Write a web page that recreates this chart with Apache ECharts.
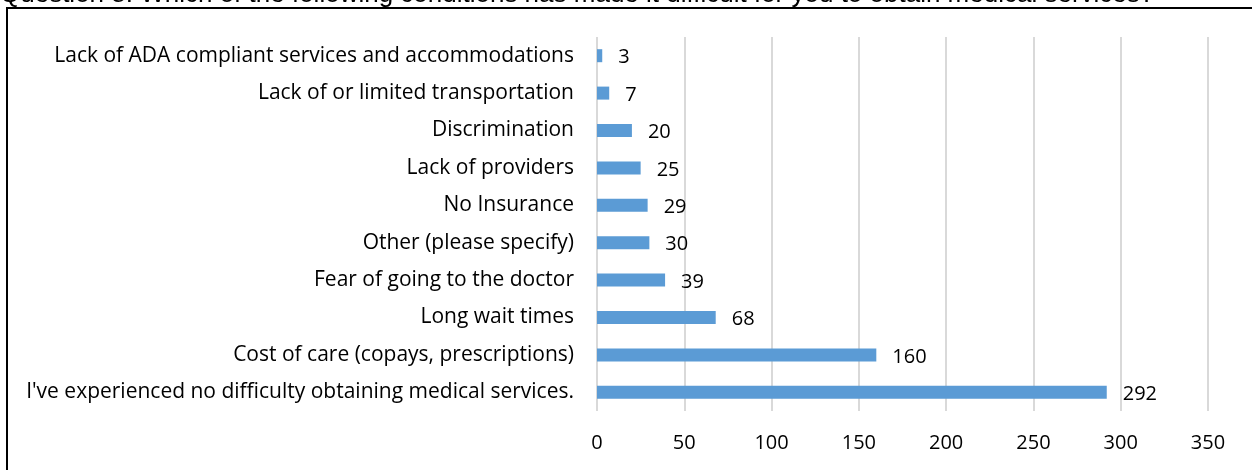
<!DOCTYPE html>
<html>
<head>
<meta charset="utf-8">
<script src="https://cdn.jsdelivr.net/npm/echarts@6/dist/echarts.min.js"></script>
<style>
  html, body { margin: 0; padding: 0; background: #fff; }
  #chart { width: 1252px; height: 470px; }
</style>
</head>
<body>
<div id="chart"></div>
<script>
// Survey responses, listed bottom-to-top as drawn on the category axis
const categories = [
  "I've experienced no difficulty obtaining medical services.",
  "Cost of care (copays, prescriptions)",
  "Long wait times",
  "Fear of going to the doctor",
  "Other (please specify)",
  "No Insurance",
  "Lack of providers",
  "Discrimination",
  "Lack of or limited transportation",
  "Lack of ADA compliant services and accommodations"
];
const counts = [292, 160, 68, 39, 30, 29, 25, 20, 7, 3];
const titleText = "Question 8: Which of the following conditions has made it difficult for you to obtain medical services?";

const labelFont = '"Open Sans", Lato, "Liberation Sans", sans-serif';

const chart = echarts.init(document.getElementById('chart'), null, { renderer: 'canvas' });
chart.setOption({
  animation: false,
  backgroundColor: '#ffffff',
  graphic: [
    {
      type: 'text',
      left: 0,
      top: -18,
      style: {
        text: titleText,
        font: '26px "Liberation Sans", Arial, sans-serif',
        fill: '#000000'
      }
    },
    {
      type: 'rect',
      shape: { x: 7, y: 8, width: 1400, height: 600 },
      style: { fill: 'none', stroke: '#000000', lineWidth: 2 }
    }
  ],
  grid: { left: 597, right: 44, top: 37, bottom: 59, containLabel: false },
  xAxis: {
    type: 'value',
    min: 0,
    max: 350,
    interval: 50,
    axisLine: { show: false },
    axisTick: { show: false },
    axisLabel: { color: '#000', fontFamily: labelFont, fontSize: 20, margin: 22 },
    splitLine: { show: true, lineStyle: { color: '#d9d9d9', width: 2 } }
  },
  yAxis: {
    type: 'category',
    data: categories,
    axisLine: { show: false },
    axisTick: { show: false },
    axisLabel: { color: '#000', fontFamily: labelFont, fontSize: 21, margin: 23 }
  },
  series: [{
    type: 'bar',
    data: counts,
    barWidth: 13,
    itemStyle: { color: '#5b9bd5' },
    label: {
      show: true,
      position: 'right',
      distance: 16,
      offset: [0, 2],
      color: '#000',
      fontFamily: labelFont,
      fontSize: 20
    }
  }]
});
</script>
</body>
</html>
